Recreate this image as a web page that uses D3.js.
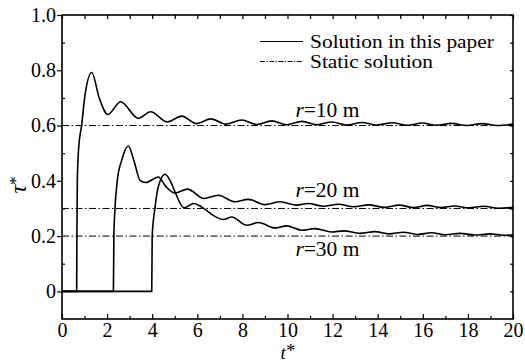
<html>

<head>
    <title>Dynamic vs static solution</title>
    <script src="https://d3js.org/d3.v7.min.js"></script>
    <style>
        body { margin: 0; background: #fff; }
    </style>
</head>

<body>
    <script>
        // series: [t*, tau*]
        const r10 = [[0, 0], [0.65, 0], [0.66, 0.2], [0.68, 0.4], [0.74, 0.52], [0.87, 0.6], [1.02, 0.71], [1.32, 0.792],
            [1.65, 0.70], [2.03, 0.640], [2.6, 0.686], [3.38, 0.626], [3.93, 0.65], [4.67, 0.613], [5.31, 0.634],
            [5.97, 0.607], [6.6, 0.624], [7.27, 0.605], [7.97, 0.620], [8.63, 0.604], [9.30, 0.617], [9.96, 0.603],
            [10.63, 0.615], [11.3, 0.603], [11.96, 0.613], [12.63, 0.602], [13.3, 0.611], [13.95, 0.602], [14.65, 0.610],
            [15.3, 0.601], [15.98, 0.609], [16.6, 0.601], [17.28, 0.608], [17.95, 0.600], [18.63, 0.607], [19.3, 0.600],
            [20, 0.605]]
        const r20 = [[0, 0], [2.28, 0], [2.30, 0.2], [2.35, 0.3], [2.45, 0.4], [2.65, 0.475], [2.94, 0.526], [3.2, 0.47],
            [3.46, 0.402], [3.72, 0.394], [4.27, 0.414], [4.6, 0.38], [5.01, 0.356], [5.57, 0.37], [6.3, 0.336],
            [6.93, 0.348], [7.67, 0.324], [8.26, 0.333], [9.0, 0.314], [9.67, 0.324], [10.41, 0.312], [10.92, 0.318],
            [11.59, 0.308], [12.25, 0.315], [12.95, 0.306], [13.6, 0.313], [14.3, 0.304], [14.95, 0.312], [15.6, 0.303],
            [16.2, 0.311], [16.8, 0.303], [17.4, 0.309], [18.05, 0.302], [18.7, 0.308], [19.35, 0.301], [20, 0.304]]
        const r30 = [[0, 0], [3.98, 0], [4.0, 0.2], [4.12, 0.3], [4.27, 0.378], [4.57, 0.424], [4.8, 0.40], [5.01, 0.36],
            [5.41, 0.302], [5.85, 0.318], [6.2, 0.305], [6.7, 0.275], [7.15, 0.26], [7.53, 0.269], [8.19, 0.239],
            [8.71, 0.249], [9.45, 0.229], [9.96, 0.237], [10.63, 0.221], [11.22, 0.227], [11.96, 0.215], [12.5, 0.219],
            [13.2, 0.210], [13.88, 0.216], [14.5, 0.208], [15.14, 0.214], [15.75, 0.206], [16.39, 0.212], [17.0, 0.205],
            [17.65, 0.210], [18.3, 0.204], [18.98, 0.208], [19.6, 0.203], [20, 0.205]]

        const staticValues = [0.6, 0.3, 0.2]
        const curveLabels = [['r', '=10 m', 0.63], ['r', '=20 m', 0.34], ['r', '=30 m', 0.127]]
        const legendLabels = ['Solution in this paper', 'Static solution']

        const xTicks = [0, 2, 4, 6, 8, 10, 12, 14, 16, 18, 20]
        const xTickLabels = ['0', '2', '4', '6', '8', '10', '12', '14', '16', '18', '20']
        const xMinor = [1, 3, 5, 7, 9, 11, 13, 15, 17, 19]
        const yTicks = [0, 0.2, 0.4, 0.6, 0.8, 1.0]
        const yTickLabels = ['0', '0.2', '0.4', '0.6', '0.8', '1.0']
        const yMinor = [0.1, 0.3, 0.5, 0.7, 0.9]

        const serif = 'Liberation Serif'
        const padL = 62, padR = 513, padT = 15, padB = 319

        const svg = d3.select('body').append('svg')
            .attr('width', 525)
            .attr('height', 364)

        const x = d3.scaleLinear().domain([0, 20]).range([padL, padR])
        const y = d3.scaleLinear().domain([-0.1, 1.0]).range([padB, padT])

        function cleanAxis(g) {
            g.select('.domain').remove()
            g.selectAll('.tick line').attr('stroke', '#000').attr('stroke-width', 1.2)
            g.selectAll('.tick text').attr('fill', '#000').attr('font-size', 20)
        }

        // bottom: major + minor ticks pointing into the plot
        svg.append('g')
            .attr('transform', 'translate(0,' + padB + ')')
            .call(d3.axisBottom(x).tickValues(xTicks).tickSizeInner(-5).tickSizeOuter(0).tickPadding(4)
                .tickFormat((d, i) => xTickLabels[i]))
            .call(cleanAxis)
        svg.append('g')
            .attr('transform', 'translate(0,' + padB + ')')
            .call(d3.axisBottom(x).tickValues(xMinor).tickSize(-3).tickFormat(''))
            .call(cleanAxis)

        // top: every unit, pointing down
        svg.append('g')
            .attr('transform', 'translate(0,' + padT + ')')
            .call(d3.axisTop(x).tickValues(xTicks.concat(xMinor)).tickSize(-4).tickFormat(''))
            .call(cleanAxis)

        // left: majors outward with labels, minors inward
        svg.append('g')
            .attr('transform', 'translate(' + padL + ',0)')
            .call(d3.axisLeft(y).tickValues(yTicks).tickSize(5).tickPadding(1)
                .tickFormat((d, i) => yTickLabels[i]))
            .call(cleanAxis)
        svg.append('g')
            .attr('transform', 'translate(' + padL + ',0)')
            .call(d3.axisLeft(y).tickValues(yMinor).tickSize(-3).tickFormat(''))
            .call(cleanAxis)

        // right: every 0.1, inward
        svg.append('g')
            .attr('transform', 'translate(' + padR + ',0)')
            .call(d3.axisRight(y).tickValues(yTicks.concat(yMinor)).tickSize(-3).tickFormat(''))
            .call(cleanAxis)

        // static solution lines
        svg.selectAll('.static')
            .data(staticValues)
            .enter()
            .append('line')
            .attr('class', 'static')
            .attr('x1', x(0))
            .attr('x2', x(20))
            .attr('y1', d => y(d))
            .attr('y2', d => y(d))
            .attr('stroke', '#000')
            .attr('stroke-width', 1)
            .attr('stroke-dasharray', '7,2.5,1.5,2.5')

        const line = d3.line()
            .x(d => x(d[0]))
            .y(d => y(d[1]))
            .curve(d3.curveMonotoneX)

        svg.selectAll('.curve')
            .data([r30, r20, r10])
            .enter()
            .append('path')
            .attr('class', 'curve')
            .attr('d', line)
            .attr('fill', 'none')
            .attr('stroke', '#000')
            .attr('stroke-width', 1.6)

        // frame
        svg.append('rect')
            .attr('x', padL)
            .attr('y', padT)
            .attr('width', padR - padL)
            .attr('height', padB - padT)
            .attr('fill', 'none')
            .attr('stroke', '#000')
            .attr('stroke-width', 1.6)

        // curve labels
        curveLabels.forEach(function (lab) {
            const t = svg.append('text')
                .attr('x', x(10.35))
                .attr('y', y(lab[2]))
                .attr('font-size', 20)
                .attr('textLength', 64)
                .attr('lengthAdjust', 'spacingAndGlyphs')
            t.append('tspan').attr('font-style', 'italic').text(lab[0])
            t.append('tspan').text(lab[1])
        })

        // legend
        const legend = svg.append('g').attr('transform', 'translate(260,41.5)')
        legend.append('line')
            .attr('x1', 0).attr('x2', 43).attr('y1', 0).attr('y2', 0)
            .attr('stroke', '#000').attr('stroke-width', 1.2)
        legend.append('line')
            .attr('x1', 0).attr('x2', 43).attr('y1', 20).attr('y2', 20)
            .attr('stroke', '#000').attr('stroke-width', 1)
            .attr('stroke-dasharray', '5,1.5,1.2,1.5')
        legend.selectAll('.leg')
            .data(legendLabels)
            .enter()
            .append('text')
            .attr('x', 50)
            .attr('y', (d, i) => i * 20 + 6)
            .attr('font-size', 18)
            .attr('textLength', (d, i) => i === 0 ? 184 : 123)
            .attr('lengthAdjust', 'spacingAndGlyphs')
            .text(d => d)

        // axis titles
        const xt = svg.append('text')
            .attr('x', 288)
            .attr('y', 359)
            .attr('text-anchor', 'middle')
            .attr('font-size', 19)
        xt.append('tspan').attr('font-style', 'italic').text('t')
        xt.append('tspan').attr('dy', -2).text('*')

        const yt = svg.append('text')
            .attr('transform', 'translate(26,185) rotate(-90)')
            .attr('text-anchor', 'middle')
            .attr('font-size', 24)
        yt.append('tspan').attr('font-style', 'italic').text('τ')
        yt.append('tspan').attr('dy', -5).attr('font-size', 17).text('*')

        // set the face on every text and tspan directly
        svg.selectAll('text, tspan').attr('font-family', serif)
    </script>
</body>

</html>
